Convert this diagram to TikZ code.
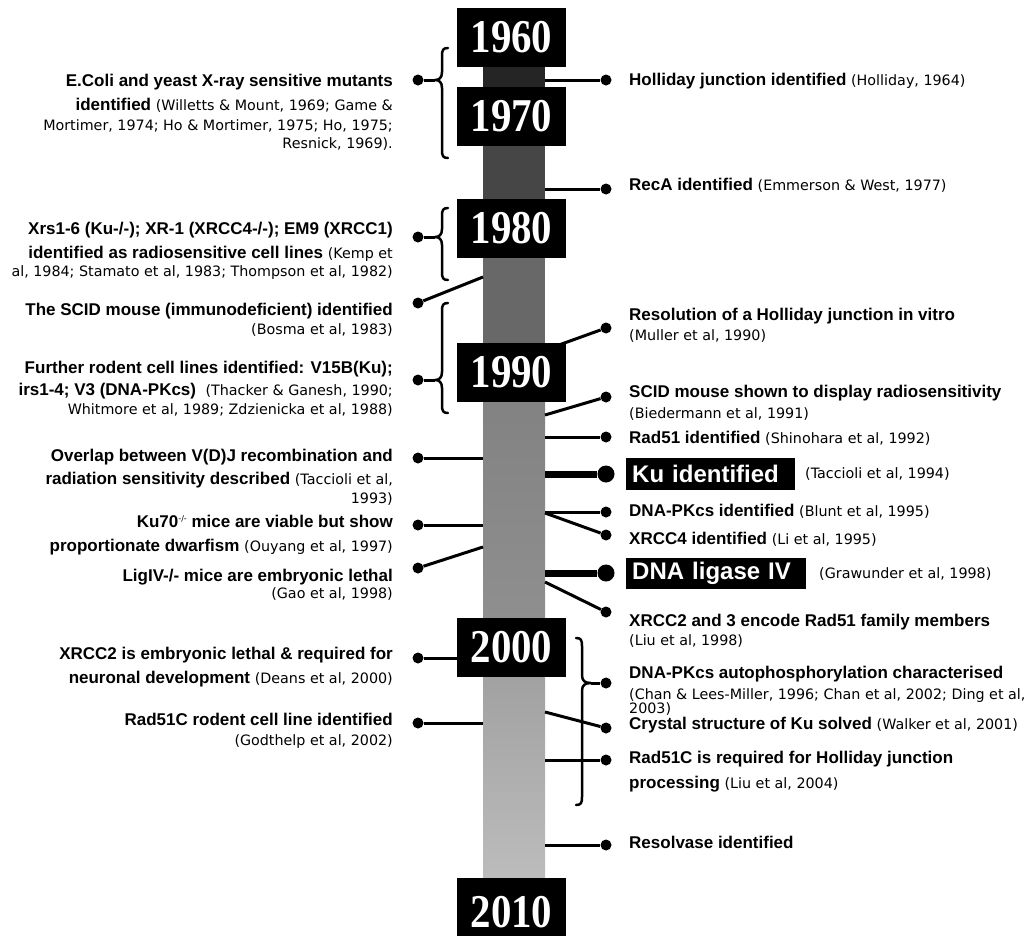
\documentclass[tikz,border=0pt]{standalone}
\usepackage{fontspec}
\newfontfamily\ArialF{Liberation Sans}
\newfontfamily\CitF{DejaVu Sans}
\newfontfamily\YearF{Liberation Serif}[FakeStretch=0.87]
\newcommand{\boldx}{\ArialF\bfseries\fontsize{17}{24}\selectfont}
\newcommand{\citx}[1]{{\CitF\mdseries\fontsize{14.3}{19}\selectfont #1}}
\newcommand{\yearx}{\YearF\bfseries\fontsize{47}{47}\selectfont}
\newcommand{\bigx}{\ArialF\bfseries\fontsize{24}{28}\selectfont}
\definecolor{barA}{HTML}{252525}
\definecolor{barB}{HTML}{464646}
\definecolor{barC}{HTML}{686868}
\definecolor{barD}{HTML}{7F7F7F}
\definecolor{barE}{HTML}{8F8F8F}
\definecolor{barF}{HTML}{9A9A9A}
\definecolor{barG}{HTML}{BDBDBD}
% left brace: x, top, tip, bottom
\newcommand{\brL}[4]{%
  \draw[brc] (#1+6,#2) .. controls (#1+1,#2) and (#1,#2+2) .. (#1,#2+8)
    -- (#1,#3-8) .. controls (#1,#3-2) and (#1-3,#3) .. (#1-7,#3)
    .. controls (#1-3,#3) and (#1,#3+2) .. (#1,#3+8)
    -- (#1,#4-8) .. controls (#1,#4-2) and (#1+1,#4) .. (#1+6,#4);}
% right brace: x, top, tip, bottom
\newcommand{\brR}[4]{%
  \draw[brc] (#1-6,#2) .. controls (#1-1,#2) and (#1,#2+2) .. (#1,#2+8)
    -- (#1,#3-8) .. controls (#1,#3-2) and (#1+3,#3) .. (#1+9,#3)
    .. controls (#1+3,#3) and (#1,#3+2) .. (#1,#3+8)
    -- (#1,#4-8) .. controls (#1,#4-2) and (#1-1,#4) .. (#1-6,#4);}
\begin{document}
\begin{tikzpicture}[x=1pt,y=-1pt,
  dot/.style={circle,fill=black,inner sep=0pt,minimum size=11pt},
  bigdot/.style={circle,fill=black,inner sep=0pt,minimum size=17pt},
  conn/.style={line width=3pt},
  thickconn/.style={line width=7pt},
  brc/.style={line width=2.5pt,line cap=round,line join=round},
  yearbox/.style={fill=black,text=white,inner sep=0pt,minimum width=109pt,minimum height=59pt,font=\yearx},
  ltext/.style={anchor=north east,align=right,inner sep=0pt,font=\boldx},
  rtext/.style={anchor=north west,align=left,inner sep=0pt,font=\boldx},
  hlbox/.style={fill=black,text=white,font=\bigx,anchor=west,inner xsep=6pt,inner ysep=0pt,align=left},
  citnode/.style={anchor=west,inner sep=0pt}]
\useasboundingbox (0,0) rectangle (1032,935);
% ---- bar ----
\node[inner sep=0pt,minimum width=62pt,minimum height=825pt] (bar) at (514,472.5) {};
\fill[barA] (483,58) rectangle (545,92);
\fill[barB] (483,92) rectangle (545,202);
\fill[barC] (483,202) rectangle (545,346);
\shade[top color=barD,bottom color=barE] (483,346) rectangle (545,620);
\shade[top color=barF,bottom color=barG] (483,620) rectangle (545,886);
% ---- named end points on the bar and brace tips ----
\coordinate (eScidL) at (483,277);
\coordinate (eLig4) at (483,547);
\coordinate (eRes) at (545,350);
\coordinate (eScidR) at (545,415);
\coordinate (eX4) at (545,513);
\coordinate (eX23) at (545,582);
\coordinate (eCry) at (545,712);
\coordinate (bt1) at (435,80);
\coordinate (bt2) at (435,237);
\coordinate (bt3) at (435,380);
\coordinate (bt4) at (591,683);
% ---- dots ----
\node[dot] (dEcoli) at (418,80) {};
\node[dot] (dXrs) at (418,237) {};
\node[dot] (dScidL) at (418,303) {};
\node[dot] (dFur) at (418,380) {};
\node[dot] (dOv) at (418,458) {};
\node[dot] (dKu70) at (418,525) {};
\node[dot] (dLig4) at (418,568) {};
\node[dot] (dX2) at (418,658) {};
\node[dot] (dR51CL) at (418,723) {};
\node[dot] (dHol) at (606,80) {};
\node[dot] (dRecA) at (606,189) {};
\node[dot] (dRes) at (606,328) {};
\node[dot] (dScidR) at (606,397) {};
\node[dot] (dRad51) at (606,437) {};
\node[bigdot] (dKu) at (606,474) {};
\node[dot] (dPK) at (606,512) {};
\node[dot] (dX4) at (606,535) {};
\node[bigdot] (dLig) at (606,573) {};
\node[dot] (dX23) at (606,612) {};
\node[dot] (dAuto) at (606,683) {};
\node[dot] (dCry) at (606,728) {};
\node[dot] (dR51C) at (606,760) {};
\node[dot] (dResv) at (606,845) {};
% ---- connectors ----
\draw[conn] (dEcoli) -- (bt1);
\draw[conn] (dXrs) -- (bt2);
\draw[conn] (dScidL) -- (eScidL);
\draw[conn] (dFur) -- (bt3);
\draw[conn] (dOv) -- (dOv -| bar.west);
\draw[conn] (dKu70) -- (dKu70 -| bar.west);
\draw[conn] (dLig4) -- (eLig4);
\draw[conn] (dR51CL) -- (dR51CL -| bar.west);
\draw[conn] (dHol -| bar.east) -- (dHol);
\draw[conn] (dRecA -| bar.east) -- (dRecA);
\draw[conn] (eRes) -- (dRes);
\draw[conn] (eScidR) -- (dScidR);
\draw[conn] (dRad51 -| bar.east) -- (dRad51);
\draw[thickconn] (dKu -| bar.east) -- (dKu);
\draw[conn] (dPK -| bar.east) -- (dPK);
\draw[conn] (eX4) -- (dX4);
\draw[thickconn] (dLig -| bar.east) -- (dLig);
\draw[conn] (eX23) -- (dX23);
\draw[conn] (bt4) -- (dAuto);
\draw[conn] (eCry) -- (dCry);
\draw[conn] (dR51C -| bar.east) -- (dR51C);
\draw[conn] (dResv -| bar.east) -- (dResv);
% ---- braces ----
\brL{442}{48}{80}{158}
\brL{442}{208}{237}{280}
\brL{442}{303}{380}{413}
\brR{582}{638}{683}{805}
% ---- year boxes ----
\node[yearbox] (y1960) at (511.5,37) {1960};
\node[yearbox] (y1970) at (511.5,116.5) {1970};
\node[yearbox] (y1980) at (511.5,228) {1980};
\node[yearbox] (y1990) at (511.5,372.5) {1990};
\node[yearbox] (y2000) at (511.5,647) {2000};
\node[yearbox,minimum height=68pt] (y2010) at (511.5,912) {2010};
\draw[conn] (dX2) -- (y2000.west |- dX2);
% ---- left texts ----
\node[ltext] (tEcoli) at (393,73.5) {E.Coli and yeast X-ray sensitive mutants\\
  identified \citx{(Willetts \& Mount, 1969; Game \&}\\[-4pt]
  \citx{Mortimer, 1974; Ho \& Mortimer, 1975; Ho, 1975;}\\[-6pt]
  \citx{Resnick, 1969).}};
\node[ltext] (tXrs) at (393,221.5) {Xrs1-6 (Ku-/-); XR-1 (XRCC4-/-); EM9 (XRCC1)\\
  identified as radiosensitive cell lines \citx{(Kemp et}\\[-6pt]
  \citx{al, 1984; Stamato et al, 1983; Thompson et al, 1982)}};
\node[ltext] (tScidL) at (393,302.5) {The SCID mouse (immunodeficient) identified\\[-5pt]
  \citx{(Bosma et al, 1983)}};
\node[ltext] (tFur) at (393,360.5) {Further rodent cell lines identified: V15B(Ku);\\[-2pt]
  irs1-4; V3 (DNA-PKcs)\ \ \citx{(Thacker \& Ganesh, 1990;}\\[-5pt]
  \citx{Whitmore et al, 1989; Zdzienicka et al, 1988)}};
\node[ltext] (tOv) at (393,448.5) {Overlap between V(D)J recombination and\\[-1pt]
  radiation sensitivity described \citx{(Taccioli et al,}\\[-5pt]
  \citx{1993)}};
\node[ltext] (tKu70) at (393,514.5) {Ku70\raisebox{6pt}{\citx{\fontsize{8}{8}\selectfont -/-}} mice are viable but show\\
  proportionate dwarfism \citx{(Ouyang et al, 1997)}};
\node[ltext] (tLig4) at (393,568.5) {LigIV-/- mice are embryonic lethal\\[-7pt]
  \citx{(Gao et al, 1998)}};
\node[ltext] (tX2) at (393,646.5) {XRCC2 is embryonic lethal \& required for\\
  neuronal development \citx{(Deans et al, 2000)}};
\node[ltext] (tR51CL) at (393,712.5) {Rad51C rodent cell line identified\\[-4pt]
  \citx{(Godthelp et al, 2002)}};
% ---- right texts ----
\node[rtext] (tHol) at (629,72.5) {Holliday junction identified \citx{(Holliday, 1964)}};
\node[rtext] (tRecA) at (629,177.5) {RecA identified \citx{(Emmerson \& West, 1977)}};
\node[rtext] (tRes) at (629,307.5) {Resolution of a Holliday junction in vitro\\[-4pt]
  \citx{(Muller et al, 1990)}};
\node[rtext] (tScidR) at (629,384.5) {SCID mouse shown to display radiosensitivity\\[-3pt]
  \citx{(Biedermann et al, 1991)}};
\node[rtext] (tRad51) at (629,430.5) {Rad51 identified \citx{(Shinohara et al, 1992)}};
\node[hlbox,text width=157pt,minimum height=32pt] (tKu) at (626,474) {Ku identified};
\node[citnode] (cKu) at (805,474) {\citx{(Taccioli et al, 1994)}};
\node[rtext] (tPK) at (629,503.5) {DNA-PKcs identified \citx{(Blunt et al, 1995)}};
\node[rtext] (tX4) at (629,531.5) {XRCC4 identified \citx{(Li et al, 1995)}};
\node[hlbox,text width=168pt,minimum height=31pt] (tLig) at (626,573.5) {DNA ligase IV};
\node[citnode] (cLig) at (819,573.5) {\citx{(Grawunder et al, 1998)}};
\node[rtext] (tX23) at (629,613.5) {XRCC2 and 3 encode Rad51 family members\\[-5pt]
  \citx{(Liu et al, 1998)}};
\node[rtext] (tAuto) at (629,665.5) {DNA-PKcs autophosphorylation characterised\\[-3pt]
  \citx{(Chan \& Lees-Miller, 1996; Chan et al, 2002; Ding et al,}\\[-10pt]
  \citx{2003)}};
\node[rtext] (tCry) at (629,716.5) {Crystal structure of Ku solved \citx{(Walker et al, 2001)}};
\node[rtext] (tR51C) at (629,750.5) {Rad51C is required for Holliday junction\\[1pt]
  processing \citx{(Liu et al, 2004)}};
\node[rtext] (tResv) at (629,835.5) {Resolvase identified};
\end{tikzpicture}
\end{document}
